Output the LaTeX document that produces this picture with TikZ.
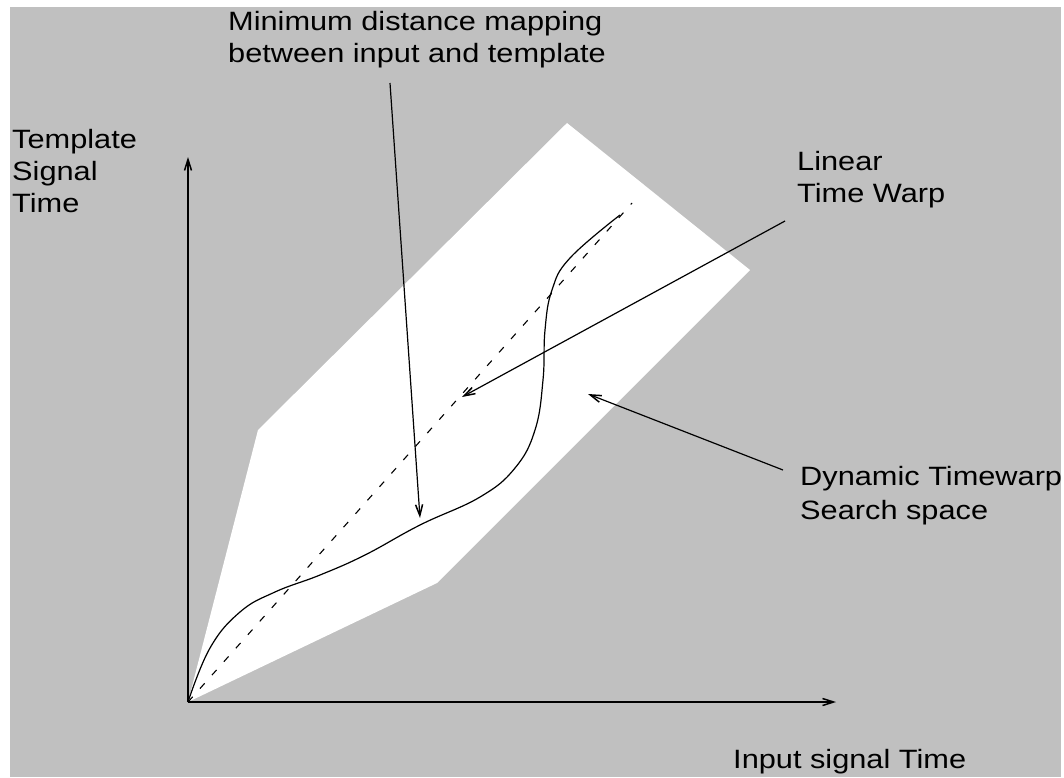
\documentclass[tikz,border=0pt]{standalone}
\usepackage{fontspec}
\setmainfont{Liberation Sans}[FakeStretch=1.16]
\usetikzlibrary{arrows.meta}
\definecolor{bggray}{RGB}{192,192,192}
\newcommand{\ArrTip}{Straight Barb[length=11pt,width=7pt,line width=1.5pt]}
\tikzset{lbl/.style={anchor=base west,inner sep=0pt,font=\fontsize{26.5}{32}\selectfont}}
\tikzset{ptr/.style={line width=1.2pt,-{\ArrTip}}}
\tikzset{axis/.style={line width=1.5pt,-{\ArrTip}}}
\begin{document}
\begin{tikzpicture}[x=1pt,y=-1pt]
\useasboundingbox(0,0)rectangle(1064,777);
\fill[bggray](10,7)rectangle(1061,777);
% search space
\coordinate(O)at(188,702);
\fill[white](O)--(258,430)--(567,123)--(750,270)--(437,583)--cycle;
% linear warp
\coordinate(linEnd)at(632,203);
\draw[line width=1.1pt,dash pattern=on 7pt off 11pt](O)--(linEnd);
% warping path
\draw[line width=1.2pt]plot[smooth,tension=.7]coordinates{(188,702)(210,648)(240,612)(275,592)(320,575)(365,555)(420,525)(480,497)(515,468)(535,430)(543,380)(545,330)(552,290)(570,258)(620,215)};
% axes
\coordinate(yEnd)at(188,157);\coordinate(xEnd)at(836,702);
\draw[axis](O)--(yEnd);\draw[axis](O)--(xEnd);
% labels
\node[lbl](min1)at(228,30){Minimum distance mapping};
\node[lbl](min2)at(228,62){between input and template};
\node[lbl](tpl1)at(12,148){Template};\node[lbl](tpl2)at(12,180){Signal};\node[lbl](tpl3)at(12,212){Time};
\node[lbl](lin1)at(797,170){Linear};\node[lbl](lin2)at(797,202){Time Warp};
\node[lbl](dyn1)at(800,485){Dynamic Timewarp};\node[lbl](dyn2)at(800,519){Search space};
\node[lbl](inp)at(733,768){Input signal Time};
% pointers
\coordinate(mapS)at(390,83);\coordinate(mapT)at(420,518);
\coordinate(linS)at(785,221);\coordinate(linT)at(462,397);
\coordinate(dynS)at(783,470);\coordinate(dynT)at(588,394);
\draw[ptr](mapS)--(mapT);\draw[ptr](linS)--(linT);\draw[ptr](dynS)--(dynT);
\end{tikzpicture}
\end{document}
